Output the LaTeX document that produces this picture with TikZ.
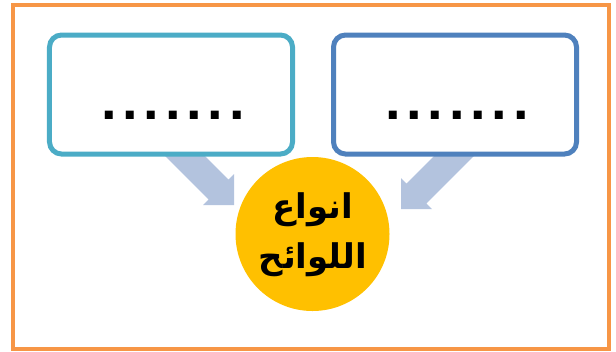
\documentclass[tikz,border=0pt]{standalone}
\usepackage{fontspec}
\setmainfont{Liberation Sans}
\newfontfamily\arabicfont[Script=Arabic]{DejaVu Sans}
\newfontfamily\dotfont[LetterSpace=10.3]{Liberation Sans}
\TeXXeTstate=1
\definecolor{frameorange}{HTML}{F79646}
\definecolor{aqualine}{HTML}{4BACC6}
\definecolor{blueline}{HTML}{4F81BD}
\definecolor{arrowblue}{HTML}{B3C3DE}
\definecolor{circlegold}{HTML}{FFC000}
\begin{document}
\begin{tikzpicture}[x=1bp,y=-1bp,
  blockarrow/.style={fill=arrowblue,draw=none},
  textbox/.style={draw,fill=white,line width=5bp,rounded corners=12bp,
                  minimum width=243bp,minimum height=119bp,inner sep=0pt},
  dots/.style={anchor=base,inner sep=0pt,font=\dotfont\bfseries\fontsize{56bp}{60bp}\selectfont}]

\useasboundingbox (0,0) rectangle (616,351);

%% outer frame
\draw [frameorange, line width=4bp] (13,4.7) rectangle (609,348.5);

%% arrows (behind the boxes)
\fill [blockarrow] (154.2,145) -- (208.6,199.4) -- (203,205) -- (234,205) -- (234,174) -- (228.4,179.6) -- (193.8,145) -- cycle;
\fill [blockarrow] (484.8,145) -- (426.4,203.4) -- (432,209) -- (401,209) -- (401,178) -- (406.6,183.6) -- (445.2,145) -- cycle;

%% boxes
\node [textbox, draw=aqualine] (leftbox) at (171,94.5) {};
\node [textbox, draw=blueline] (rightbox) at (455,94.5) {};
\node [dots] (leftdots) at (173,119) {.......};
\node [dots] (rightdots) at (457,119) {.......};

%% centre circle
\node [circle, fill=circlegold, minimum size=154bp, inner sep=0pt] (kinds) at (312.5,234) {};
\node [anchor=base, align=center, inner sep=0pt,
       font=\arabicfont\bfseries\fontsize{34bp}{50bp}\selectfont] (kindstext) at (313,268)
      {\beginR انواع\endR\\\beginR اللوائح\endR};
\end{tikzpicture}
\end{document}
